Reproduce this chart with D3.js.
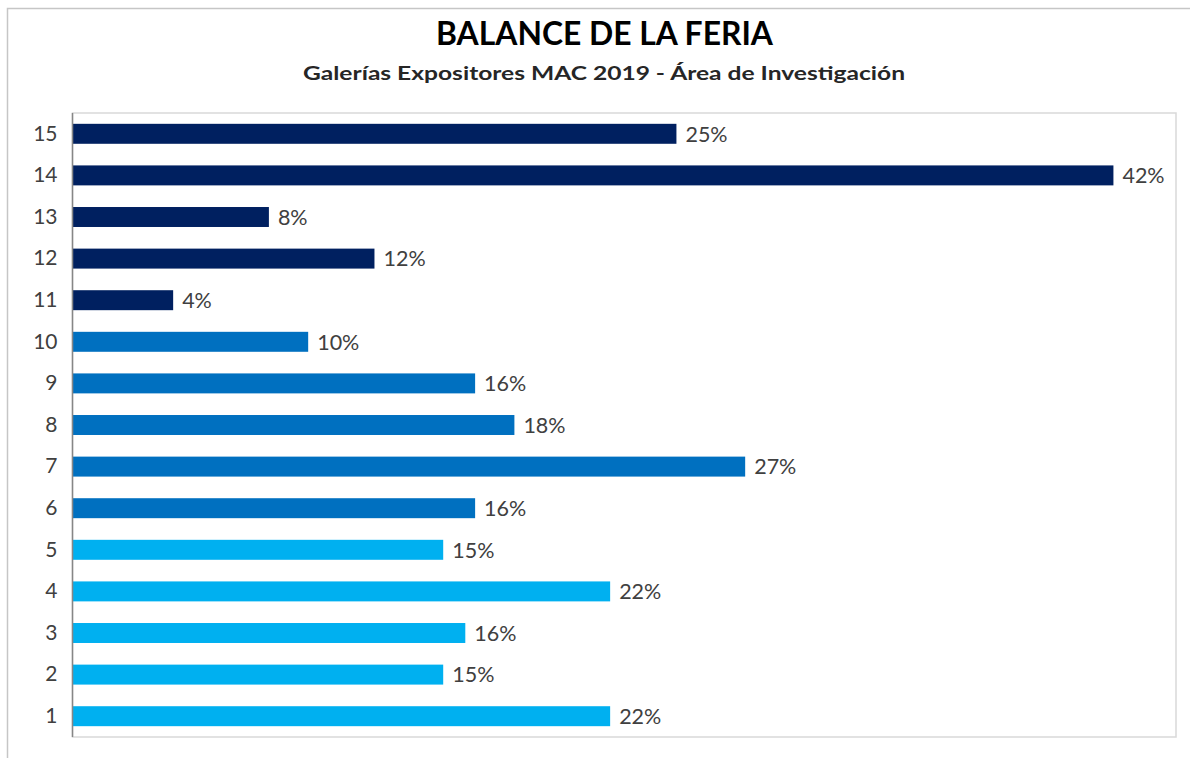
<!DOCTYPE html>
<html>
<head>
<meta charset="utf-8">
<script src="https://cdn.jsdelivr.net/npm/d3@7"></script>
<style>
    body { margin: 0; background: #fff; }
    svg { display: block; font-family: Lato, "Open Sans", sans-serif; }
</style>
</head>
<body>
<svg class="chart" width="1190" height="758"></svg>
<script>
var titleText = 'BALANCE DE LA FERIA';
var subtitleText = 'Galerías Expositores MAC 2019 - Área de Investigación';

var categories = ['1', '2', '3', '4', '5', '6', '7', '8', '9', '10', '11', '12', '13', '14', '15'];
var values = [0.219, 0.151, 0.160, 0.219, 0.151, 0.164, 0.274, 0.180, 0.164, 0.096, 0.041, 0.123, 0.080, 0.424, 0.246];
var groupColors = ['#00b0f0', '#00b0f0', '#00b0f0', '#00b0f0', '#00b0f0',
    '#0070c0', '#0070c0', '#0070c0', '#0070c0', '#0070c0',
    '#002060', '#002060', '#002060', '#002060', '#002060'];

var plot = { left: 72.5, right: 1176, top: 113, bottom: 737 };

var svg = d3.select('.chart');

// outer chart frame (cropped on the right and bottom)
svg.append('rect')
    .attr('x', 7.5).attr('y', 8.5)
    .attr('width', 1200).attr('height', 800)
    .style('fill', 'none')
    .style('stroke', '#c6c6c6')
    .style('stroke-width', 1.5);

var xScale = d3.scaleLinear().domain([0, 0.45]).range([plot.left, plot.left + 45 * 24.55]);
var yScale = d3.scaleBand()
    .domain(categories.slice().reverse())
    .range([plot.top, plot.bottom])
    .paddingInner(0.52)
    .paddingOuter(0.26);

// plot area border
svg.append('rect')
    .attr('x', plot.left).attr('y', plot.top)
    .attr('width', plot.right - plot.left).attr('height', plot.bottom - plot.top)
    .style('fill', 'none')
    .style('stroke', '#d9d9d9')
    .style('stroke-width', 1.5);

var rows = categories.map(function(c, i) {
    return { cat: c, value: values[i], color: groupColors[i] };
});

svg.append('g')
    .selectAll('rect')
    .data(rows)
    .join('rect')
    .attr('x', xScale(0))
    .attr('y', function(d) { return yScale(d.cat); })
    .attr('width', function(d) { return xScale(d.value) - xScale(0); })
    .attr('height', yScale.bandwidth())
    .style('fill', function(d) { return d.color; });

var fmt = d3.format('.0%');
svg.append('g')
    .selectAll('text')
    .data(rows)
    .join('text')
    .attr('x', function(d) { return xScale(d.value) + 9; })
    .attr('y', function(d) { return yScale(d.cat) + yScale.bandwidth() / 2; })
    .attr('dy', '0.36em')
    .style('font-size', '21.5px')
    .style('fill', '#404040')
    .text(function(d) { return fmt(d.value); });

// category axis
var yAxis = svg.append('g')
    .attr('transform', 'translate(' + plot.left + ',0)')
    .call(d3.axisLeft(yScale).tickSize(0).tickPadding(15));
yAxis.select('.domain')
    .attr('d', 'M0,' + plot.top + 'V' + plot.bottom)
    .style('stroke', '#868686')
    .style('stroke-width', 1.5);
yAxis.selectAll('text')
    .style('font-size', '21px')
    .style('font-family', 'Lato, "Open Sans", sans-serif')
    .style('fill', '#404040');

svg.append('text')
    .attr('x', 604.5).attr('y', 45)
    .attr('text-anchor', 'middle')
    .attr('textLength', 337)
    .attr('lengthAdjust', 'spacingAndGlyphs')
    .style('font-size', '32px')
    .style('font-weight', 'bold')
    .style('fill', '#000')
    .text(titleText);

svg.append('text')
    .attr('x', 604).attr('y', 80)
    .attr('text-anchor', 'middle')
    .attr('textLength', 602)
    .attr('lengthAdjust', 'spacingAndGlyphs')
    .style('font-size', '19px')
    .style('font-weight', 'bold')
    .style('fill', '#262626')
    .text(subtitleText);
</script>
</body>
</html>
